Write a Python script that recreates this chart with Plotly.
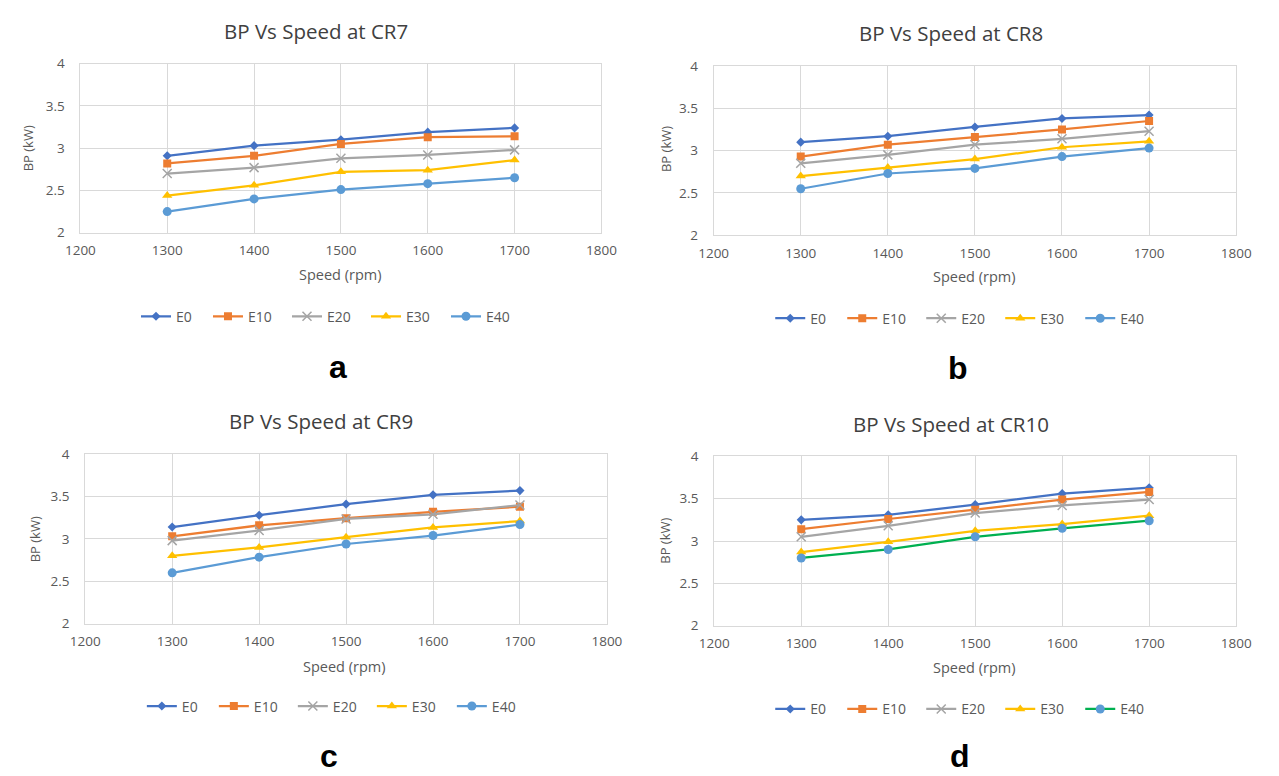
import plotly.graph_objects as go

# ---------------- data ----------------
speed = [1300, 1400, 1500, 1600, 1700]
blends = ["E0", "E10", "E20", "E30", "E40"]
cr_titles = ["BP Vs Speed at CR7", "BP Vs Speed at CR8", "BP Vs Speed at CR9", "BP Vs Speed at CR10"]
panel_letters = ["a", "b", "c", "d"]
x_tick_vals = [1200, 1300, 1400, 1500, 1600, 1700, 1800]
y_tick_vals = [2, 2.5, 3, 3.5, 4]

cr7_E0 = [2.91, 3.03, 3.10, 3.19, 3.24]
cr7_E10 = [2.82, 2.91, 3.05, 3.13, 3.14]
cr7_E20 = [2.70, 2.77, 2.88, 2.92, 2.98]
cr7_E30 = [2.44, 2.56, 2.72, 2.74, 2.86]
cr7_E40 = [2.25, 2.40, 2.51, 2.58, 2.65]

cr8_E0 = [3.10, 3.17, 3.28, 3.38, 3.42]
cr8_E10 = [2.93, 3.07, 3.16, 3.25, 3.35]
cr8_E20 = [2.85, 2.95, 3.07, 3.14, 3.23]
cr8_E30 = [2.70, 2.80, 2.90, 3.04, 3.11]
cr8_E40 = [2.55, 2.73, 2.79, 2.93, 3.03]

cr9_E0 = [3.14, 3.28, 3.41, 3.52, 3.57]
cr9_E10 = [3.03, 3.16, 3.245, 3.32, 3.38]
cr9_E20 = [2.98, 3.10, 3.235, 3.29, 3.40]
cr9_E30 = [2.80, 2.90, 3.02, 3.135, 3.21]
cr9_E40 = [2.60, 2.785, 2.94, 3.04, 3.17]

cr10_E0 = [3.25, 3.31, 3.43, 3.56, 3.63]
cr10_E10 = [3.14, 3.26, 3.37, 3.49, 3.58]
cr10_E20 = [3.05, 3.18, 3.33, 3.42, 3.49]
cr10_E30 = [2.87, 2.99, 3.12, 3.20, 3.30]
cr10_E40 = [2.80, 2.90, 3.05, 3.15, 3.24]

panels = [
    [cr7_E0, cr7_E10, cr7_E20, cr7_E30, cr7_E40],
    [cr8_E0, cr8_E10, cr8_E20, cr8_E30, cr8_E40],
    [cr9_E0, cr9_E10, cr9_E20, cr9_E30, cr9_E40],
    [cr10_E0, cr10_E10, cr10_E20, cr10_E30, cr10_E40],
]

# ---------------- styles ----------------
W, H = 1279, 776
FONT = "Open Sans"
line_colors = ["#4472C4", "#ED7D31", "#A5A5A5", "#FFC000", "#5B9BD5"]
marker_colors = ["#4472C4", "#ED7D31", "#A5A5A5", "#FFC000", "#5B9BD5"]
symbols = ["diamond", "square", "x-thin-open", "triangle-up", "circle"]
msizes = [7, 8, 9, 9, 9]
legend_entry_widths = [27, 34, 34, 35, 30]
# panel d draws E40 with a green line
panel_line_override = {3: {4: "#00B050"}}

# plot area pixel boxes: (left, right, top, bottom)
boxes = [(67, 601, 56, 229), (716, 1251.5, 58.3, 231.7),
         (72, 606.6, 455.7, 629.3), (716.6, 1251.5, 458, 631.3)]
title_pos = [(308, 23), (959, 25), (314, 422), (959, 425)]
xtitle_pos = [(333.5, 272), (983.7, 274), (338, 673), (983.7, 674)]
ytitle_pos = [(13, 143), (666.5, 143), (20.4, 543), (666.5, 544)]
legend_pos = [(124, 315), (774, 317), (130, 714), (774, 717)]
letter_pos = [(331, 366), (966, 368), (322, 765), (968, 765)]

fig = go.Figure()

def px(x):
    return x / W

def py(y):
    return 1 - y / H

annotations = []
for p in range(4):
    sfx = "" if p == 0 else str(p + 1)
    leg = "legend" + sfx
    for i, b in enumerate(blends):
        lc = panel_line_override.get(p, {}).get(i, line_colors[i])
        mk = dict(symbol=symbols[i], size=msizes[i], color=marker_colors[i])
        if symbols[i] == "x-thin-open":
            mk["line"] = dict(color=marker_colors[i], width=1.5)
        fig.add_trace(go.Scatter(
            x=speed, y=panels[p][i], name=b, mode="lines+markers",
            line=dict(color=lc, width=2.25), marker=mk,
            xaxis="x" + sfx, yaxis="y" + sfx, legend=leg,
            legendwidth=legend_entry_widths[i],
        ))
    l, r, t, bt = boxes[p]
    axcommon = dict(showgrid=True, gridcolor="#D9D9D9", gridwidth=1, zeroline=False,
                    showline=True, linecolor="#D9D9D9", linewidth=1, mirror=True,
                    tickfont=dict(family=FONT, size=13.5, color="#595959"), ticks="")
    fig.update_layout(**{
        "xaxis" + sfx: dict(domain=[px(l), px(r)], range=[1200, 1800], tickvals=x_tick_vals,
                            anchor="y" + sfx, ticklabelstandoff=5, **axcommon),
        "yaxis" + sfx: dict(domain=[py(bt), py(t)], range=[2, 4], tickvals=y_tick_vals,
                            anchor="x" + sfx, ticklabelstandoff=12, **axcommon),
        leg: dict(orientation="h", x=px(legend_pos[p][0]), y=py(legend_pos[p][1]),
                  xanchor="left", yanchor="middle", bgcolor="rgba(0,0,0,0)",
                  font=dict(family=FONT, size=14, color="#595959"), itemclick=False),
    })
    annotations.append(dict(text=cr_titles[p], x=px(title_pos[p][0]), y=py(title_pos[p][1]),
                            xref="paper", yref="paper", showarrow=False, xanchor="center", yanchor="middle",
                            font=dict(family=FONT, size=20.5, color="#404040")))
    annotations.append(dict(text="Speed (rpm)", x=px(xtitle_pos[p][0]), y=py(xtitle_pos[p][1]),
                            xref="paper", yref="paper", showarrow=False, xanchor="center", yanchor="middle",
                            font=dict(family=FONT, size=14.5, color="#595959")))
    annotations.append(dict(text="BP (kW)", x=px(ytitle_pos[p][0]), y=py(ytitle_pos[p][1]),
                            xref="paper", yref="paper", showarrow=False, xanchor="center", yanchor="middle",
                            textangle=-90, font=dict(family=FONT, size=13, color="#595959")))
    annotations.append(dict(text="<b>" + panel_letters[p] + "</b>", x=px(letter_pos[p][0]), y=py(letter_pos[p][1]),
                            xref="paper", yref="paper", showarrow=False, xanchor="center", yanchor="middle",
                            font=dict(family="Liberation Sans", size=32, color="#000000")))

fig.update_layout(width=W, height=H, margin=dict(l=0, r=0, t=0, b=0),
                  paper_bgcolor="white", plot_bgcolor="white",
                  annotations=annotations, showlegend=True)

fig.write_html("out.html")
